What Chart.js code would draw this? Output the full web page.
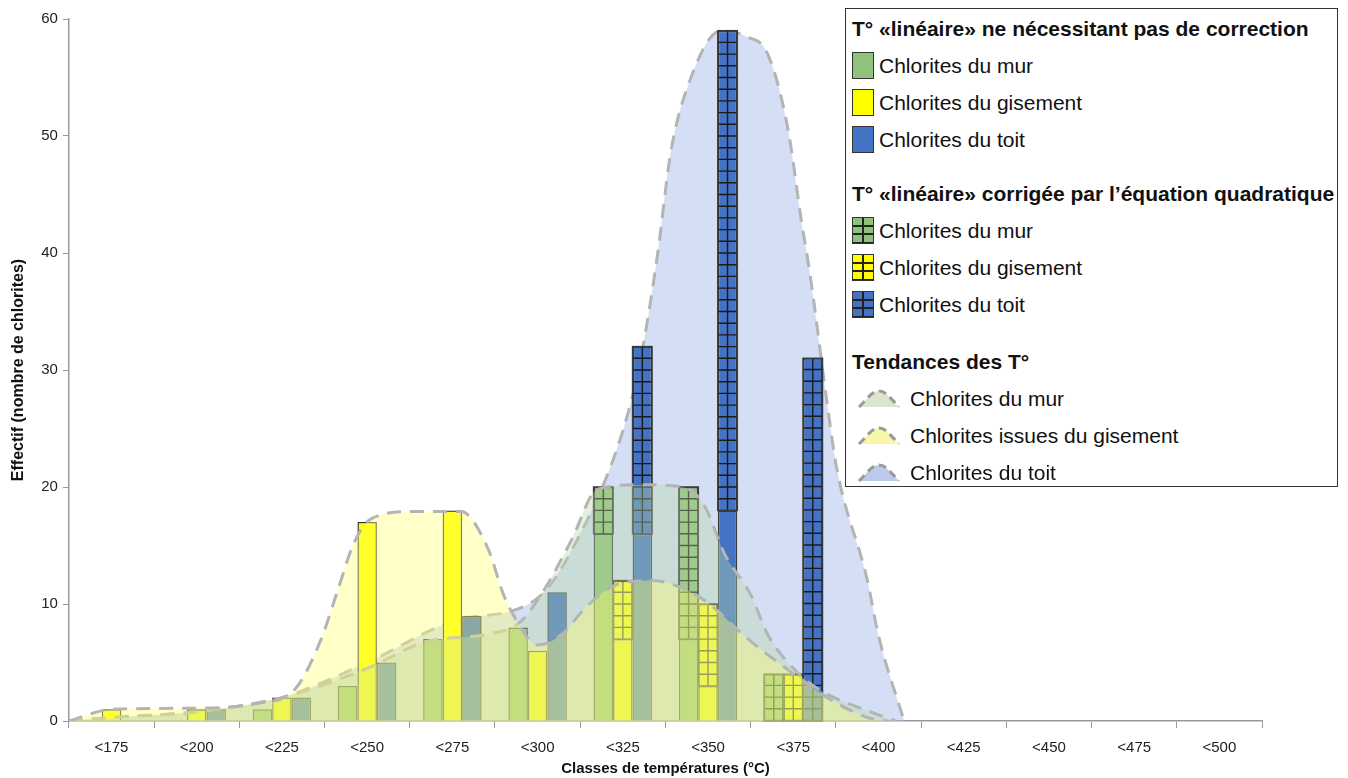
<!DOCTYPE html>
<html lang="fr">
<head>
<meta charset="utf-8">
<title>Classes de températures des chlorites</title>
<script src="https://cdn.jsdelivr.net/npm/chart.js@4.4.1/dist/chart.umd.min.js"></script>
<style>
  html, body { margin: 0; padding: 0; background: #fff; }
  body { width: 1348px; height: 778px; position: relative; overflow: hidden; font-family: "Liberation Sans", Arial, sans-serif; }
  #wrap { position: absolute; left: 0; top: 0; width: 1348px; height: 778px; }
  #legende {
    position: absolute; left: 845px; top: 8px; width: 493px; height: 479px;
    box-sizing: border-box; border: 1.5px solid #333; background: #fff;
    padding: 1px 0 0 6px; color: #111;
  }
  #legende .titre { font-weight: bold; font-size: 21px; height: 37px; line-height: 37px; white-space: nowrap; }
  #legende .item { font-size: 21px; height: 37px; line-height: 37px; display: flex; align-items: center; white-space: nowrap; }
  #legende .sw { width: 22px; height: 27px; box-sizing: border-box; border: 1.5px solid #333; margin-right: 5px; flex: none; }
  #legende .hatch {
    background-image:
      linear-gradient(to right, transparent 9px, #222 9px, #222 11px, transparent 11px),
      repeating-linear-gradient(to bottom, transparent 0 6.5px, #222 6.5px 8.5px);
  }
  #legende svg { flex: none; margin: 0 8px 0 4px; }
  #legende .gap1 { margin-top: 17px; }
  #legende .gap2 { margin-top: 20px; }
</style>
</head>
<body>
<div id="wrap"><canvas id="graphique"></canvas></div>
<div id="legende"></div>

<script>
// CATEGORIES (classes de temperatures)
const classes = ['<175', '<200', '<225', '<250', '<275', '<300', '<325', '<350', '<375', '<400', '<425', '<450', '<475', '<500'];

// EFFECTIFS - T° lineaire sans correction
const murLineaire   = [0, 0, 1, 3, 7, 8, 16, 7, 0, 0, 0, 0, 0, 0];
const gisLineaire   = [1, 1, 2, 17, 18, 6, 7, 3, 0, 0, 0, 0, 0, 0];
const toitLineaire  = [0, 1, 2, 5, 9, 11, 16, 18, 0, 0, 0, 0, 0, 0];

// EFFECTIFS - T° corrigee par l'equation quadratique (empiles au-dessus)
const murCorrige    = [0, 0, 0, 0, 0, 0, 4, 13, 4, 0, 0, 0, 0, 0];
const gisCorrige    = [0, 0, 0, 0, 0, 0, 5, 7, 4, 0, 0, 0, 0, 0];
const toitCorrige   = [0, 0, 0, 0, 0, 0, 16, 41, 31, 0, 0, 0, 0, 0];

// TENDANCES - [position en classes, effectif]
const tendanceMur = [[-0.5, 0], [0, 0.3], [1, 0.8], [2, 2], [3, 4.5], [3.7, 6.8], [4.4, 7.4], [4.8, 8.5], [5.1, 11.5],
  [5.4, 15.5], [5.7, 19.8], [6.2, 20.2], [6.7, 20], [6.95, 18.5], [7.2, 14.2], [7.5, 10.8], [7.7, 7.4], [8, 4.5],
  [8.3, 2.7], [8.9, 0.8], [9.2, 0]];
const tendanceGis = [[-0.5, 0], [0, 1], [1, 1.1], [1.7, 1.5], [2.15, 2.7], [2.46, 7], [2.66, 11.3], [2.85, 15.3],
  [3.05, 17.3], [3.55, 17.9], [4.1, 17.9], [4.42, 14.7], [4.6, 10.8], [4.72, 9], [5, 6.5], [5.3, 7.5], [5.55, 9.6],
  [5.94, 11.7], [6.33, 12], [6.92, 10.5], [7.47, 7], [7.97, 4.2], [8.4, 2], [8.87, 0.3], [9.1, 0]];
const tendanceToit = [[-0.5, 0], [0, 0.3], [1, 0.8], [2, 2], [3, 5], [4, 8.5], [5, 10.5], [5.43, 15], [6, 24.8],
  [6.21, 31], [6.41, 40], [6.56, 48.5], [6.8, 55], [7.15, 59], [7.45, 58.5], [7.7, 57], [7.94, 50.5], [8.09, 43],
  [8.2, 38], [8.4, 27], [8.51, 21.6], [8.87, 12], [9, 7.3], [9.3, 0]];

const ticksY = [0, 10, 20, 30, 40, 50, 60];

// COULEURS
const VERT = '#8fc27a', JAUNE = '#ffff00', BLEU = '#4472c4';
const BORD = '#3a3a3a';
const TIRETS = '#b4b4b4';

// une seule echelle x (lineaire, une unite par classe) pour barres et courbes
const enPoints = arr => arr.map((v, i) => ({ x: i, y: v === 0 ? null : v }));

function barre(label, data, couleur, pile, hachure) {
  return {
    type: 'bar', label: label, data: enPoints(data), stack: pile,
    backgroundColor: couleur, borderColor: BORD, borderWidth: 1.5,
    categoryPercentage: 0.686, barPercentage: 1, order: 2, hatch: hachure
  };
}

function tendance(label, data, fond, ordre, pile) {
  return {
    type: 'line', label: label, data: data, stack: pile,
    fill: 'origin', backgroundColor: fond, borderColor: TIRETS, borderWidth: 3,
    borderDash: [14, 9], pointRadius: 0, cubicInterpolationMode: 'monotone', order: ordre
  };
}

// QUADRILLAGE DES BARRES CORRIGEES (une case = une chlorite)
const quadrillage = {
  id: 'quadrillage',
  afterDatasetDraw(chart, args) {
    const ds = chart.data.datasets[args.index];
    if (!ds.hatch) return;
    const ctx = chart.ctx;
    const yScale = chart.scales.y;
    const unite = Math.abs(yScale.getPixelForValue(1) - yScale.getPixelForValue(0));
    ctx.save();
    args.meta.data.forEach((el, i) => {
      if (ds.data[i].y == null) return;
      const p = el.getProps(['x', 'y', 'base', 'width'], true);
      const g = p.x - p.width / 2, d = p.x + p.width / 2;
      ctx.strokeStyle = '#1a1a1a';
      ctx.lineWidth = 1.4;
      ctx.beginPath();
      ctx.moveTo(p.x, p.base);
      ctx.lineTo(p.x, p.y);
      for (let py = p.base - unite; py > p.y + 1; py -= unite) {
        ctx.moveTo(g, py);
        ctx.lineTo(d, py);
      }
      ctx.stroke();
      ctx.strokeStyle = BORD;
      ctx.lineWidth = 1.5;
      ctx.strokeRect(g, p.y, d - g, p.base - p.y);
    });
    ctx.restore();
  }
};

const ctx = document.getElementById('graphique').getContext('2d');
const chart = new Chart(ctx, {
  data: {
    datasets: [
      tendance('Chlorites issues du gisement', tendanceGis, 'rgba(255,255,110,0.38)', 0, 'tg'),
      tendance('Chlorites du mur', tendanceMur, 'rgba(185,215,165,0.38)', 1, 'tm'),
      barre('Chlorites du mur', murLineaire, VERT, 'mur', false),
      barre('Chlorites du mur (corrigée)', murCorrige, VERT, 'mur', true),
      barre('Chlorites du gisement', gisLineaire, JAUNE, 'gis', false),
      barre('Chlorites du gisement (corrigée)', gisCorrige, JAUNE, 'gis', true),
      barre('Chlorites du toit', toitLineaire, BLEU, 'toit', false),
      barre('Chlorites du toit (corrigée)', toitCorrige, BLEU, 'toit', true),
      tendance('Chlorites du toit', tendanceToit, 'rgba(160,185,235,0.45)', 3, 'tt')
    ]
  },
  options: {
    responsive: true,
    maintainAspectRatio: false,
    animation: false,
    layout: { padding: { left: 9, right: 86, top: 19, bottom: 0 } },
    plugins: { legend: { display: false }, tooltip: { enabled: false } },
    scales: {
      x: {
        type: 'linear', stacked: true, offset: false,
        min: -0.5, max: classes.length - 0.5,
        afterBuildTicks: axis => { axis.ticks = classes.map((c, i) => ({ value: i })); },
        grid: { display: true, drawOnChartArea: false, drawTicks: true, tickLength: 7, color: '#999', offset: true },
        border: { display: true, color: '#999', width: 1.5 },
        ticks: { color: '#222', font: { family: 'Liberation Sans', size: 15 }, padding: 11,
          maxRotation: 0, autoSkip: false, callback: v => classes[Math.round(v)] },
        title: { display: true, text: 'Classes de températures (°C)', color: '#111',
          font: { family: 'Liberation Sans', size: 15, weight: 'bold' }, padding: { top: -8, bottom: 0 } }
      },
      y: {
        stacked: true, min: 0, max: 60,
        afterBuildTicks: axis => { axis.ticks = ticksY.map(v => ({ value: v })); },
        grid: { display: true, drawOnChartArea: false, drawTicks: true, tickLength: 6, color: '#999' },
        border: { display: true, color: '#999', width: 1.5 },
        ticks: { color: '#222', font: { family: 'Liberation Sans', size: 15 }, padding: 5 },
        title: { display: true, text: 'Effectif (nombre de chlorites)', color: '#111',
          font: { family: 'Liberation Sans', size: 16, weight: 'bold' }, padding: { top: 0, bottom: 8 } }
      }
    }
  },
  plugins: [quadrillage]
});

// LEGENDE HTML (avec titres de sections)
const sections = [
  { titre: 'T° «linéaire» ne nécessitant pas de correction', type: 'plein',
    items: [['Chlorites du mur', VERT], ['Chlorites du gisement', JAUNE], ['Chlorites du toit', BLEU]] },
  { titre: 'T° «linéaire» corrigée par l’équation quadratique', type: 'hachure',
    items: [['Chlorites du mur', VERT], ['Chlorites du gisement', JAUNE], ['Chlorites du toit', BLEU]] },
  { titre: 'Tendances des T°', type: 'tendance',
    items: [['Chlorites du mur', '#dbe6cf'], ['Chlorites issues du gisement', '#f7f7a8'], ['Chlorites du toit', '#bccbeb']] }
];

function iconeTendance(couleur) {
  return '<svg width="46" height="22" viewBox="0 0 46 22">' +
    '<path d="M3,19 C12,10 16,3 23,3 C30,3 34,10 43,19 Z" fill="' + couleur + '"/>' +
    '<path d="M3,19 C12,10 16,3 23,3 C30,3 34,10 43,19" fill="none" stroke="#9a9a9a" stroke-width="3" stroke-dasharray="8 5"/>' +
    '</svg>';
}

const legende = document.getElementById('legende');
let html = '';
sections.forEach((s, k) => {
  html += '<div class="titre' + (k === 1 ? ' gap1' : k === 2 ? ' gap2' : '') + '">' + s.titre + '</div>';
  s.items.forEach(([nom, couleur]) => {
    let icone;
    if (s.type === 'tendance') icone = iconeTendance(couleur);
    else icone = '<span class="sw' + (s.type === 'hachure' ? ' hatch' : '') + '" style="background-color:' + couleur + '"></span>';
    html += '<div class="item">' + icone + '<span>' + nom + '</span></div>';
  });
});
legende.innerHTML = html;
</script>
</body>
</html>
